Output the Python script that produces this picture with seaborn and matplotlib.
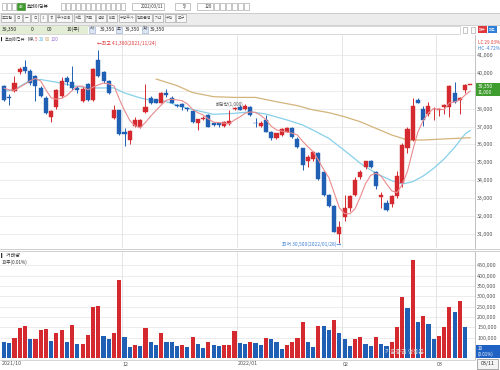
import numpy as np
import pandas as pd
import matplotlib
matplotlib.use("Agg")
import matplotlib.pyplot as plt
import seaborn as sns
from matplotlib.patches import Rectangle

sns.set_theme(style="white")
plt.rcParams["font.family"] = ["Noto Sans CJK KR", "DejaVu Sans"]

# ---------------- data ----------------
opens = [39250, 38650, 38970, 40040, 40320, 40130, 39810, 39160, 38600, 37530,
         38075, 38690, 39720, 39480, 39160, 38410, 39380, 38500, 40710, 40050,
         39530, 37480, 37900, 36700, 36260, 37050, 36970, 37800, 38600, 38520,
         38335, 38860, 38580, 38225, 38280, 38020, 37890, 37180, 37440, 37650,
         37180, 37180, 37030, 37150, 38000, 38110, 37960, 38110, 37200, 37050,
         37370, 36720, 36340, 36530, 36720, 36940, 36310, 35790, 35100, 35170,
         35540, 34480, 33180, 32580, 31000, 31930, 32470, 33180, 34170, 34720,
         35100, 34480, 33090, 32750, 32680, 33120, 33830, 35790, 36250, 38480,
         37960, 37700, 37960, 37950, 38080, 38080, 38890, 38490, 39040, 39350]
highs = [39300, 38800, 39810, 40350, 40710, 40200, 39900, 39250, 38690, 37900,
         39100, 39780, 39800, 40370, 39250, 39200, 39450, 40250, 41300, 40100,
         39600, 38225, 37950, 36900, 36800, 37530, 37400, 39380, 38700, 38560,
         38950, 39080, 38700, 38250, 38300, 38100, 37950, 37450, 37600, 37700,
         37200, 37200, 37300, 37930, 38100, 38200, 38250, 38150, 37460, 37300,
         37650, 36750, 36650, 36900, 37000, 37000, 36400, 35800, 35400, 35650,
         35600, 34500, 33250, 32600, 31700, 33180, 33200, 34200, 34600, 35100,
         35150, 34500, 33370, 32900, 33200, 34520, 36100, 37000, 38600, 38600,
         38150, 38350, 38100, 38050, 38250, 39300, 39500, 38650, 39380, 39350]
lows = [38450, 38230, 38950, 39950, 40000, 39350, 38450, 38650, 37700, 37230,
        38000, 38600, 39300, 39050, 38900, 38350, 38450, 38450, 39750, 39450,
        38800, 37450, 36550, 35930, 36040, 37000, 36900, 37750, 38250, 38300,
        38300, 38670, 38300, 38100, 37950, 37850, 37200, 36810, 37350, 36950,
        37050, 37000, 36950, 37100, 37950, 37900, 37900, 37600, 37000, 37000,
        36700, 36250, 36300, 36500, 36700, 36350, 35800, 34570, 34760, 35100,
        34000, 33100, 32500, 31100, 30500, 31700, 32300, 33100, 34100, 34650,
        34700, 33500, 32430, 32300, 32500, 33000, 33600, 35500, 36200, 38300,
        37050, 37600, 37370, 37600, 37700, 37550, 38300, 37700, 38900, 39350]
closes = [38500, 38600, 39440, 40220, 40090, 39440, 39250, 38730, 37760, 37850,
          39065, 39530, 39480, 39160, 39030, 39100, 38500, 40220, 39810, 39530,
          38880, 37900, 36580, 36600, 36780, 37350, 37380, 38080, 38320, 38340,
          38895, 38750, 38340, 38130, 38110, 37990, 37240, 37410, 37480, 37000,
          37110, 37110, 37270, 37330, 38040, 37930, 38150, 37650, 37180, 37220,
          36720, 36340, 36620, 36850, 36940, 36400, 35840, 34850, 35320, 35600,
          34050, 33180, 32580, 31130, 31370, 32430, 33120, 34020, 34450, 35060,
          34760, 33680, 33160, 32340, 33120, 34240, 35970, 36850, 38150, 38330,
          37370, 38150, 38000, 38000, 38220, 39270, 38390, 38580, 39350, 39350]
volume_k = [77, 76, 97, 147, 156, 93, 95, 137, 142, 84,
            124, 137, 79, 159, 68, 70, 111, 250, 251, 110,
            92, 124, 379, 101, 56, 64, 60, 147, 77, 63,
            122, 81, 80, 60, 63, 56, 101, 71, 48, 81,
            64, 60, 63, 64, 132, 72, 71, 81, 72, 63,
            98, 92, 81, 45, 63, 77, 97, 177, 81, 55,
            156, 155, 137, 184, 122, 92, 61, 92, 105, 68,
            60, 101, 68, 58, 77, 153, 295, 242, 474, 176,
            206, 166, 93, 106, 150, 250, 226, 275, 150, 3]
# moving averages (index, value)
ma5_head = [39150, 39050, 39030, 39200]
ma20_idx = [0, 2, 5, 7, 10, 13, 16, 19, 21, 23, 26, 29, 30, 35, 40, 44, 47, 50,
            54, 57, 59, 62, 65, 68, 71, 74, 76, 78, 80, 82, 84, 86, 88, 89]
ma20_val = [38970, 39065, 39590, 39630, 39480, 39290, 39160, 39160, 39160, 38880,
            38600, 38410, 38480, 38020, 37685, 37740, 37830, 37700, 37370, 37090,
            36800, 36340, 35660, 34950, 34390, 33980, 33790, 33920, 34240, 34670,
            35190, 35840, 36590, 36790]
ma60_idx = [29, 33, 36, 40, 44, 48, 52, 56, 59, 62, 65, 68, 71, 74, 77, 80, 84, 89]
ma60_val = [39660, 39290, 38900, 38670, 38630, 38630, 38390, 38170, 37930, 37780,
            37550, 37270, 36900, 36530, 36250, 36250, 36310, 36380]
month_start_idx = [23, 45, 65, 83]
month_labels = ["2021/10", "12", "2022/01", "02", "03"]
price_ticks = [31000, 32000, 33000, 34000, 35000, 36000, 37000, 38000, 39000, 40000, 41000]
vol_ticks_k = [100, 150, 200, 250, 300, 350, 400, 450]
high_date = "2021/11/24"
low_date = "2022/01/28"
ex_div_idx = 43
last_label = "03/11"

# ---------------- derived ----------------
n = len(closes)
idx = np.arange(n)
df = pd.DataFrame({"i": idx, "o": opens, "h": highs, "l": lows, "c": closes,
                   "v": np.array(volume_k) * 1000})
df["up"] = df["c"] >= df["o"]
ma5 = df["c"].rolling(5).mean().to_numpy()
ma5[:4] = ma5_head
vol_up = np.r_[False, np.diff(df["v"].to_numpy()) >= 0]
df["vcol"] = np.where(vol_up, "up", "down")

RED = "#d42a2f"
BLUE = "#2060b4"
W, H = 500, 370
LBL = "#555555"
FS = 3.9

fig = plt.figure(figsize=(5, 3.7), dpi=100)
fig.patch.set_facecolor("white")


def fx(p):
    return p / W


def fy(p):
    return 1 - p / H


def box(x0, y0, w, h, fc="white", ec="#999999", lw=0.4):
    fig.add_artist(Rectangle((fx(x0), fy(y0 + h)), fx(w), h / H, transform=fig.transFigure,
                             facecolor=fc, edgecolor=ec, lw=lw))


def ftxt(x, y, t, fs=FS, c="#222222", ha="left", **kw):
    fig.text(fx(x), fy(y), t, fontsize=fs, color=c, ha=ha, va="center", **kw)


PX0, PXW = 4.0, 5.24  # pixel of idx 0, pixel per candle
xl = (-PX0 / PXW, (475 - PX0) / PXW)

# ---------------- price panel ----------------
ax = fig.add_axes([0, fy(248), 475 / W, (248 - 35) / H])
p_top = 41000 + (55 - 35) * 55.87
p_bot = 41000 - (248 - 55) * 55.87
ax.set_xlim(*xl)
ax.set_ylim(p_bot, p_top)
for p in price_ticks:
    ax.axhline(p, color="#e9e9e9", lw=0.6, zorder=0)
for m in month_start_idx:
    ax.axvline(m - 0.5, color="#e2e2e2", lw=0.6, zorder=0)

cols = np.where(df["up"], RED, BLUE)
ax.vlines(df["i"], df["l"], df["h"], colors=cols, lw=0.7, zorder=3)
body = np.maximum((df["c"] - df["o"]).abs(), 45)
ax.bar(df["i"], body, bottom=np.minimum(df["o"], df["c"]), width=0.78,
       color=cols, edgecolor=cols, lw=0.3, zorder=4)

ax.plot(idx, ma5, color="#e98b8e", lw=0.8, zorder=5)
sns.lineplot(x=ma20_idx, y=ma20_val, ax=ax, color="#86d0ea", lw=0.9, zorder=2)
sns.lineplot(x=ma60_idx, y=ma60_val, ax=ax, color="#d3b47b", lw=0.9, zorder=2)

ax.yaxis.tick_right()
ax.set_yticks(price_ticks)
ax.set_yticklabels([f"{p:,}" for p in price_ticks], fontsize=FS, color=LBL)
ax.tick_params(axis="y", length=0, pad=1.6)
ax.set_xticks([])
for s in ["top", "left", "bottom"]:
    ax.spines[s].set_visible(False)
ax.spines["right"].set_color("#b8b8b8")
ax.spines["right"].set_linewidth(0.6)

hi_i = int(np.argmax(df["h"]))
lo_i = int(np.argmin(df["l"]))
ax.text(hi_i - 0.2, df["h"][hi_i] + 360, f"\u2190최고 {df['h'][hi_i]:,}({high_date})",
        fontsize=3.5, color="#e03a3a", ha="left", va="center")
ax.text(lo_i + 0.4, df["l"][lo_i] - 60, f"최저 {df['l'][lo_i]:,}({low_date})\u2192",
        fontsize=3.5, color="#3a7bd5", ha="right", va="center")
ax.text(ex_div_idx, df["h"][ex_div_idx] + 150, "배당락(1,000)", fontsize=3.4,
        color=LBL, ha="center", va="bottom")

# ---------------- volume panel ----------------
axv = fig.add_axes([0, fy(359), 475 / W, (359 - 251) / H])
sns.barplot(data=df, x="i", y="v", hue="vcol", palette={"up": RED, "down": BLUE},
            dodge=False, width=0.8, ax=axv, legend=False, native_scale=True,
            linewidth=0, saturation=1)
axv.set_xlim(*xl)
axv.set_ylim(-3400, (358.3 - 251) / 0.2069 * 1000)
for t in vol_ticks_k:
    axv.axhline(t * 1000, color="#e9e9e9", lw=0.6, zorder=0)
for m in month_start_idx:
    axv.axvline(m - 0.5, color="#e2e2e2", lw=0.6, zorder=0)
axv.yaxis.tick_right()
axv.set_yticks([t * 1000 for t in vol_ticks_k])
axv.set_yticklabels([f"{t * 1000:,}" for t in vol_ticks_k], fontsize=FS, color=LBL)
axv.tick_params(axis="y", length=0, pad=1.6)
axv.set_xticks([])
axv.set_xlabel("")
axv.set_ylabel("")
for s in ["top", "left", "bottom"]:
    axv.spines[s].set_visible(False)
axv.spines["right"].set_color("#b8b8b8")
axv.spines["right"].set_linewidth(0.6)
ftxt(1, 255, "\u258e거래량", fs=3.6, c="#333333")
ftxt(2, 262, "10주(0.01%)", fs=3.4, c="#333333")
ftxt(385, 353, "키움증권 영웅문", fs=4.2, c="#dcdcdc")

# ---------------- x labels ----------------
starts = [0] + month_start_idx
for k, (s, lab) in enumerate(zip(starts, month_labels)):
    px = PX0 + PXW * (s - 0.5) if k else 1
    ftxt(px + 0.5, 364, lab, fs=FS, c=LBL)
box(477, 358.5, 21, 10, fc="#f4f4f4", ec="#888888", lw=0.5)
ftxt(487.5, 363.5, last_label, fs=FS, c="#333333", ha="center")
fig.add_artist(plt.Line2D([0, fx(475)], [fy(359.5)] * 2, transform=fig.transFigure,
                          color="#cfcfcf", lw=0.6))

# separators
for yy in (248.5, 251):
    fig.add_artist(plt.Line2D([0, 1], [fy(yy)] * 2, transform=fig.transFigure,
                              color="#c8c8c8", lw=0.6))

# current price / volume boxes
box(476, 83, 24, 13, fc="#3f9d2f", ec="none")
ftxt(478, 86.5, f"{closes[-1]:,}", fs=3.6, c="white")
ftxt(478, 92.5, "11,000", fs=3.4, c="white")
box(476, 345, 24, 13, fc="#1f62c4", ec="none")
ftxt(478, 348.5, "10", fs=3.4, c="white")
ftxt(477.5, 354.5, "(0.01%)", fs=3.2, c="white")
ftxt(478, 43, "LC 29.03%", fs=3.3, c="#e03a3a")
ftxt(478, 49, "HC -4.72%", fs=3.3, c="#3a7bd5")

# ---------------- header / toolbar ----------------
box(0, 0, 500, 12.5, fc="#ffffff", ec="none")
box(0, 12.5, 500, 12, fc="#ececec", ec="none")
fig.add_artist(plt.Line2D([0, 1], [fy(12.5)] * 2, transform=fig.transFigure, color="#bdbdbd", lw=0.5))
fig.add_artist(plt.Line2D([0, 1], [fy(24.5)] * 2, transform=fig.transFigure, color="#bdbdbd", lw=0.5))
box(0, 25.5, 460, 8, fc="#ffffff", ec="#c9c9c9", lw=0.5)
box(0, 25.5, 88, 8, fc="#e3edd5", ec="none")
info = [(2, f"{closes[-1]:,}"), (31, "0"), (47, "00"), (67, "10(주)"),
        (100, f"{opens[-1]:,}"), (125, f"{highs[-1]:,}"), (150, f"{lows[-1]:,}")]
for px, t in info:
    ftxt(px, 29.5, t, fs=3.5)
for px, t in [(89, "시"), (116, "고"), (142, "저")]:
    box(px, 26.5, 6, 6, fc="#dde6f3", ec="#8fa6c8", lw=0.4)
    ftxt(px + 3, 29.5, t, fs=3.0, c="#333333", ha="center")
box(463, 26.5, 4, 6)
box(471, 26.5, 4, 6)
box(478, 26, 9, 7, fc="#e0373b", ec="none")
box(488, 26, 9, 7, fc="#2f7fd8", ec="none")
ftxt(482.5, 29.5, "매수", fs=2.6, c="white", ha="center")
ftxt(492.5, 29.5, "매도", fs=2.6, c="white", ha="center")

for x0 in (2, 7, 12):
    box(x0, 3, 4, 7)
box(17, 3, 8, 7, fc="#3f9d2f", ec="#2f7d22")
ftxt(21, 6.5, "43", fs=3.0, c="white", ha="center")
ftxt(27, 6.5, "트레이딩뷰", fs=3.4)
for k in range(13):
    box(61 + 5 * k, 3, 4, 7)
box(132, 3, 32, 7)
ftxt(141, 6.5, "2022/03/11", fs=3.1, c="#333333")
box(175, 3, 15, 7)
ftxt(183, 6.5, "5/", fs=3.2, c="#333333")
box(197, 3, 16, 7)
ftxt(205, 6.5, "120", fs=3.2, c="#333333")
for k in range(6):
    box(214 + 6 * k, 3, 5, 7)
row2 = ["조그웹", "ㅁ", "ㅡ", "ㅁ", "1", "ㅎ", "주가적용", "차트", "지표", "설정",
        "비교", "수정주가", "일목균형", "기간", "수익", "도구"]
xx = 0.5
for t in row2:
    w = 4 + 3.0 * len(t)
    box(xx, 14.5, w, 7.5, fc="#f7f7f7", ec="#9a9a9a")
    ftxt(xx + w / 2, 18.2, t, fs=2.8, c="#555555", ha="center")
    xx += w + 1.3
ftxt(1, 39.5, "\u258e트레이딩뷰", fs=3.0)
for px, t, c in [(28, "MA", "#333333"), (35, "5", "#e05050"), (39, "20", "#5ab8e0"),
                 (45, "60", "#c9a060"), (51, "120", "#9a6ad0")]:
    ftxt(px, 39.5, t, fs=3.3, c=c)

fig.savefig("out.png", dpi=100, facecolor="white")
